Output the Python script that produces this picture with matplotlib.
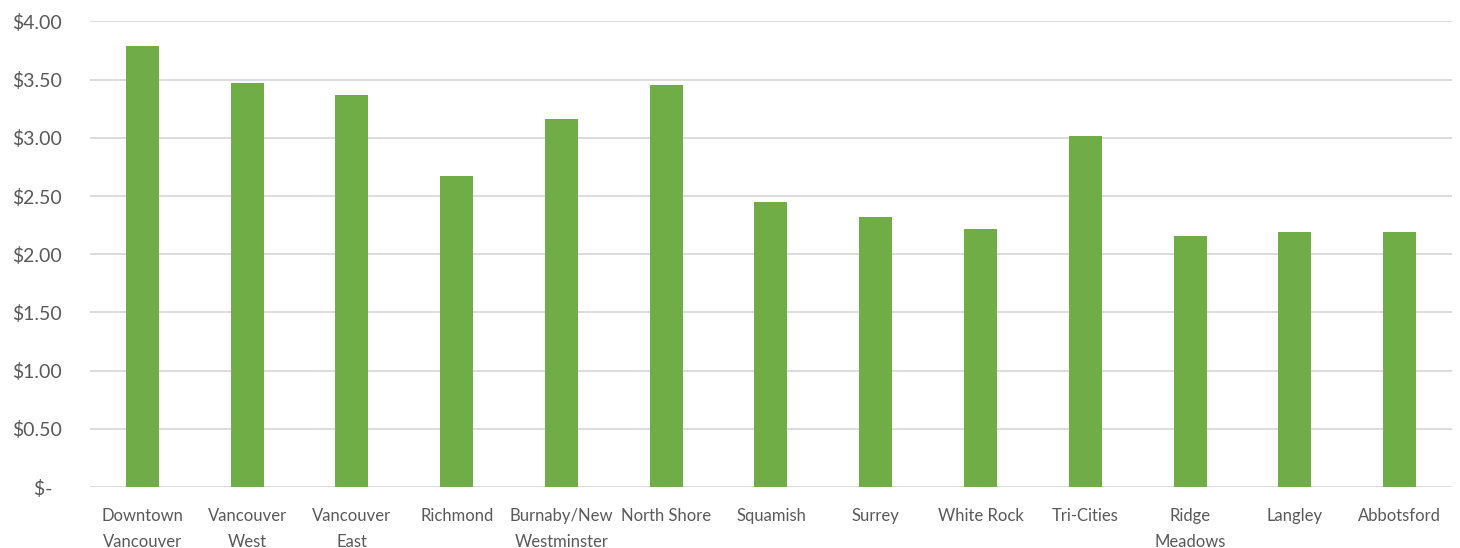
import matplotlib.pyplot as plt
import numpy as np

# regions and average price per region
regions = ['Downtown\nVancouver', 'Vancouver\nWest', 'Vancouver\nEast', 'Richmond',
           'Burnaby/New\nWestminster', 'North Shore', 'Squamish', 'Surrey',
           'White Rock', 'Tri-Cities', 'Ridge\nMeadows', 'Langley', 'Abbotsford']
prices = [3.79, 3.47, 3.37, 2.67, 3.16, 3.45, 2.45, 2.32, 2.22, 3.02, 2.16, 2.19, 2.19]

y_ticks = [0, 0.5, 1.0, 1.5, 2.0, 2.5, 3.0, 3.5, 4.0]
y_labels = ['$-  ', '$0.50', '$1.00', '$1.50', '$2.00', '$2.50', '$3.00', '$3.50', '$4.00']

plt.rcParams['font.family'] = ['Lato', 'DejaVu Sans']
text_color = '#595959'

fig = plt.figure(figsize=(14.6, 5.48), dpi=100)
ax = fig.add_axes([0.0616, 0.1113, 0.9329, 0.8495])

x = np.arange(len(regions))
ax.bar(x, prices, width=0.315, color='#70AD47', zorder=3)

ax.set_xlim(-0.5, len(regions) - 0.5)
ax.set_ylim(0, 4)
ax.set_yticks(y_ticks)
ax.set_yticklabels(y_labels)
ax.set_xticks(x)
ax.set_xticklabels(regions, linespacing=1.8)

ax.tick_params(axis='y', length=0, pad=20, labelsize=14, labelcolor=text_color)
ax.tick_params(axis='x', length=0, pad=15, labelsize=12, labelcolor=text_color)

ax.grid(axis='y', color='#D9D9D9', linewidth=1.3, zorder=0)
ax.set_axisbelow(True)
for s in ax.spines.values():
    s.set_visible(False)

fig.savefig('out.png', dpi=100)
